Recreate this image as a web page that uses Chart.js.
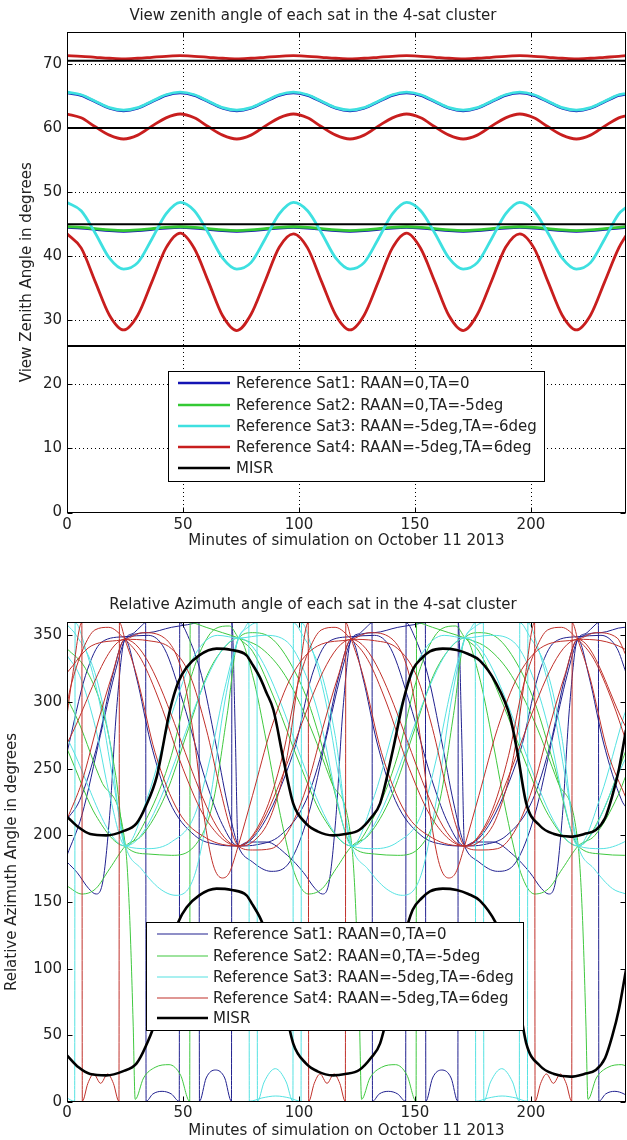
<!DOCTYPE html>
<html><head><meta charset="utf-8">
<script src="https://cdn.jsdelivr.net/npm/chart.js@4.4.1/dist/chart.umd.min.js"></script>
<style>
html,body{margin:0;padding:0;background:#fff;}
#w1{position:absolute;left:0;top:0;width:627px;height:560px;}
#w2{position:absolute;left:0;top:580px;width:627px;height:560px;}
</style></head><body>
<div id="w1"><canvas id="c1" width="627" height="560"></canvas></div>
<div id="w2"><canvas id="c2" width="627" height="560"></canvas></div>
<script>
// ---------- text ----------
const titleTop = 'View zenith angle of each sat in the 4-sat cluster';
const titleBottom = 'Relative Azimuth angle of each sat in the 4-sat cluster';
const xTitle = 'Minutes of simulation on October 11 2013';
const yTitleTop = 'View Zenith Angle in degrees';
const yTitleBottom = 'Relative Azimuth Angle in degrees';
const legendLabels = ['Reference Sat1: RAAN=0,TA=0','Reference Sat2: RAAN=0,TA=-5deg','Reference Sat3: RAAN=-5deg,TA=-6deg','Reference Sat4: RAAN=-5deg,TA=6deg','MISR'];

// ---------- tick labels ----------
const xTickLabels = [0,50,100,150,200];
const yTickLabelsTop = [0,10,20,30,40,50,60,70];
const yTickLabelsBottom = [0,50,100,150,200,250,300,350];

// ---------- top chart data (view zenith angle) ----------
const tTop = [0,6.1,12.2,18.3,24.4,30.5,36.6,42.7,48.8,54.9,61,67.1,73.2,79.3,85.4,91.5,97.6,103.7,109.8,115.9,122,128.1,134.2,140.3,146.4,152.5,158.6,164.7,170.8,176.9,183,189.1,195.2,201.3,207.4,213.5,219.6,225.7,231.8,237.9,241];
const sat1A = [65.5,65.1,64.1,63.1,62.7,63.1,64.1,65.1, 65.5,65.1,64.1,63.1,62.7,63.1,64.1,65.1, 65.5,65.1,64.1,63.1,62.7,63.1,64.1,65.1, 65.5,65.1,64.1,63.1,62.7,63.1,64.1,65.1, 65.5,65.1,64.1,63.1,62.7,63.1,64.1,65.1, 65.3];
const sat1B = [44.5,44.4,44.2,44.0,43.9,44.0,44.2,44.4, 44.5,44.4,44.2,44.0,43.9,44.0,44.2,44.4, 44.5,44.4,44.2,44.0,43.9,44.0,44.2,44.4, 44.5,44.4,44.2,44.0,43.9,44.0,44.2,44.4, 44.5,44.4,44.2,44.0,43.9,44.0,44.2,44.4, 44.5];
const sat2A = [44.6,44.5,44.3,44.1,44.0,44.1,44.3,44.5, 44.6,44.5,44.3,44.1,44.0,44.1,44.3,44.5, 44.6,44.5,44.3,44.1,44.0,44.1,44.3,44.5, 44.6,44.5,44.3,44.1,44.0,44.1,44.3,44.5, 44.6,44.5,44.3,44.1,44.0,44.1,44.3,44.5, 44.6];
const sat3A = [65.6,65.2,64.2,63.2,62.8,63.2,64.2,65.2, 65.6,65.2,64.2,63.2,62.8,63.2,64.2,65.2, 65.6,65.2,64.2,63.2,62.8,63.2,64.2,65.2, 65.6,65.2,64.2,63.2,62.8,63.2,64.2,65.2, 65.6,65.2,64.2,63.2,62.8,63.2,64.2,65.2, 65.4];
const sat3B = [48.4,47.1,43.6,39.7,38.0,39.0,42.7,46.6, 48.4,47.1,43.6,39.7,38.0,39.0,42.7,46.6, 48.4,47.1,43.6,39.7,38.0,39.0,42.7,46.6, 48.4,47.1,43.6,39.7,38.0,39.0,42.7,46.6, 48.4,47.1,43.6,39.7,38.0,39.0,42.7,46.6, 47.6];
const sat4A = [71.3,71.2,71.05,70.9,70.8,70.9,71.05,71.2, 71.3,71.2,71.05,70.9,70.8,70.9,71.05,71.2, 71.3,71.2,71.05,70.9,70.8,70.9,71.05,71.2, 71.3,71.2,71.05,70.9,70.8,70.9,71.05,71.2, 71.3,71.2,71.05,70.9,70.8,70.9,71.05,71.2, 71.3];
const sat4B = [62.2,61.6,60.2,58.9,58.3,58.9,60.3,61.6, 62.2,61.6,60.2,58.9,58.3,58.9,60.3,61.6, 62.2,61.6,60.2,58.9,58.3,58.9,60.3,61.6, 62.2,61.6,60.2,58.9,58.3,58.9,60.3,61.6, 62.2,61.6,60.2,58.9,58.3,58.9,60.3,61.6, 61.9];
const sat4C = [43.5,41.3,36.0,30.8,28.5,30.8,36.0,41.3, 43.6,41.2,36.0,30.7,28.4,30.9,36.1,41.4, 43.5,41.3,36.0,30.8,28.5,30.8,36.0,41.3, 43.6,41.2,36.0,30.7,28.4,30.9,36.1,41.4, 43.5,41.3,36.0,30.8,28.5,30.8,36.0,41.3, 43.2];
const misrTopLevels = [70.5, 60, 45, 26];
const misrTopSpan = [0, 241];

// ---------- bottom chart data (relative azimuth), flat [x,y,x,y,...] ----------
const misrUpper = [0,214, 5,206, 10,201, 17,200, 24,203, 30,209, 34,222, 38.7,244, 44.4,294, 48,315, 51.6,326, 57,335, 64.5,340, 71,339, 77.4,335, 80,328, 83,319, 86,307, 89,294, 93.3,257, 97.5,224, 103,209, 108,203, 114.7,200, 120,201, 126,204, 131,213, 135,224, 140.5,264, 145,301, 149,324, 153,333, 156.5,338, 162,340, 168,339, 173,336, 178,331, 185,314, 191,289, 194,264, 198,224, 204,207, 210,201, 217,199, 223,201, 228,204, 232,213, 235,229, 238,250, 241,279];
const misrLower = [0,35, 5,26, 10,21, 17,20, 24,23, 30,29, 34,42, 38.7,64, 44.4,114, 48,135, 51.6,146, 57,155, 64.5,160, 71,159, 77.4,155, 80,148, 83,139, 86,127, 89,114, 93.3,77, 97.5,44, 103,29, 108,23, 114.7,20, 120,21, 126,24, 131,33, 135,44, 140.5,84, 145,121, 149,144, 153,153, 156.5,158, 162,160, 168,159, 173,156, 178,151, 185,134, 191,109, 194,84, 198,44, 204,27, 210,21, 217,19, 223,21, 228,24, 232,33, 235,49, 238,70, 241,99];

const red1 = [0,269, 25,347, 73.8,192, 122.6,347, 171.4,192, 220.2,347, 241,281];
const red2 = [0,212, 6.4,240, 13.4,285, 19.4,320, 25,347, 35,346, 45,340, 53,320, 60,280, 66,235, 70,208, 73.8,192, 80,189, 88,190, 96,205, 104,240, 111,285, 117,320, 122.6,347, 132.6,346, 142.6,340, 150.6,320, 157.6,280, 163.6,235, 167.6,208, 171.4,192, 177.6,189, 185.6,190, 193.6,205, 201.6,240, 208.6,285, 214.6,320, 220.2,347, 230.2,346, 240.2,340, 241,339];
const red3 = [0,290, 2.4,320, 6.4,359.5, 6.6,0.5, 9,14, 11.5,21, 14.5,14, 17.5,21, 20,14, 22.4,0.5, 22.6,359.5, 25,347, 30,320, 38,262, 48,218, 60,198, 73.8,192, 80,195, 88,215, 95,260, 100,320, 104,359.5, 104.2,0.5, 106.6,14, 109.1,21, 112.1,14, 115.1,21, 117.6,14, 120,0.5, 120.2,359.5, 122.6,347, 127.6,320, 135.6,262, 145.6,218, 157.6,198, 171.4,192, 177.6,195, 185.6,215, 192.6,260, 197.6,320, 201.6,359.5, 201.8,0.5, 204.2,14, 206.7,21, 209.7,14, 212.7,21, 215.2,14, 217.6,0.5, 217.8,359.5, 220.2,347, 225.2,320, 233.2,262, 241,228];
const red4 = [0,298, 1.4,310, 7,340, 12,354, 18,356, 25,347, 32,332, 40,300, 50,250, 60,212, 73.8,192, 84.8,215, 93,260, 99,310, 104.6,340, 109.6,354, 115.6,356, 122.6,347, 129.6,332, 137.6,300, 147.6,250, 157.6,212, 171.4,192, 182.4,215, 190.4,260, 196.4,310, 202.2,340, 207.2,354, 213.2,356, 220.2,347, 227.2,332, 235.2,300, 241,271];
const red5 = [0,322, 10.4,342, 25,347, 33,352, 42,348, 50,320, 55,270, 59,215, 63,178, 67,168, 70,172, 73.8,192, 80,230, 88,280, 97,320, 108,342, 122.6,347, 130.6,352, 139.6,348, 147.6,320, 152.6,270, 156.6,215, 160.6,178, 164.6,168, 167.6,172, 171.4,192, 177.6,230, 185.6,280, 194.6,320, 205.6,342, 220.2,347, 228.2,352, 237.2,348, 241,335];

const blue1 = [0,185, 6.4,215, 14.4,275, 20.4,320, 25,347, 29,352, 32,357, 33.9,359.5, 34.1,0.5, 37,6, 41,8, 45,6, 48.4,0.5, 48.6,359.5, 52,350, 58,320, 64,270, 69,225, 73.8,192, 80,180, 88,173, 96,180, 104,215, 112,275, 118,320, 122.6,347, 126.6,352, 129.6,357, 131.5,359.5, 131.7,0.5, 134.6,6, 138.6,8, 142.6,6, 146,0.5, 146.2,359.5, 149.6,350, 155.6,320, 161.6,270, 166.6,225, 171.4,192, 177.6,180, 185.6,173, 193.6,180, 201.6,215, 209.6,275, 215.6,320, 220.2,347, 224.2,352, 227.2,357, 229.1,359.5, 229.3,0.5, 232.2,6, 236.2,8, 240.2,6, 241,5];
const blue2 = [0,180, 4.4,172, 9.4,160, 12.5,156, 15.4,165, 18.4,215, 21.4,295, 25,347, 35,352, 45,356, 52,358, 56.9,359.5, 57.1,0.5, 60,18, 64,24, 68,18, 70.9,0.5, 71.1,359.5, 72.5,280, 73.8,192, 78,195, 86,195, 95,185, 102,172, 107,160, 110.1,156, 113,165, 116,215, 119,295, 122.6,347, 132.6,352, 142.6,356, 149.6,358, 154.5,359.5, 154.7,0.5, 157.6,18, 161.6,24, 165.6,18, 168.5,0.5, 168.7,359.5, 170.1,280, 171.4,192, 175.6,195, 183.6,195, 192.6,185, 199.6,172, 204.6,160, 207.7,156, 210.6,165, 213.6,215, 216.6,295, 220.2,347, 230.2,352, 240.2,356, 241,356];
const blue3 = [0,262, 8,320, 15,345, 25,349, 35,350, 42,340, 50,300, 60,240, 67,208, 73.8,192, 97.6,262, 105.6,320, 112.6,345, 122.6,349, 132.6,350, 139.6,340, 147.6,300, 157.6,240, 164.6,208, 171.4,192, 195.2,262, 203.2,320, 210.2,345, 220.2,349, 230.2,350, 237.2,340, 241,322];
const blue4 = [0,212, 5.4,226, 13.4,270, 19.4,318, 25,347, 30,318, 36,270, 44,226, 55,200, 65,193, 73.8,192, 82,193, 92,200, 103,226, 111,270, 117,318, 122.6,347, 127.6,318, 133.6,270, 141.6,226, 152.6,200, 162.6,193, 171.4,192, 179.6,193, 189.6,200, 200.6,226, 208.6,270, 214.6,318, 220.2,347, 225.2,318, 231.2,270, 239.2,226, 241,221];

const cyan1 = [0,3, 3.3,0.5, 3.5,359.5, 8,340, 14,300, 20,240, 25.2,192, 32,175, 40,160, 47,155, 55,170, 62,230, 68,300, 74,348, 76.5,355, 78.4,359.5, 78.6,0.5, 84,3, 90,4.5, 96,3, 100.9,0.5, 101.1,359.5, 105.6,340, 111.6,300, 117.6,240, 122.8,192, 129.6,175, 137.6,160, 144.6,155, 152.6,170, 159.6,230, 165.6,300, 171.6,348, 174.1,355, 176,359.5, 176.2,0.5, 181.6,3, 187.6,4.5, 193.6,3, 198.5,0.5, 198.7,359.5, 203.2,340, 209.2,300, 215.2,240, 220.4,192, 227.2,175, 235.2,160, 241,156];
const cyan2 = [0,358, 4,350, 12,322, 18,275, 25.2,192, 35,190, 45,195, 55,215, 62,260, 68,310, 74,348, 78,356, 81.9,359.5, 82.1,0.5, 85,15, 89.8,25, 94.5,15, 97.4,0.5, 97.6,359.5, 101.6,350, 109.6,322, 115.6,275, 122.8,192, 132.6,190, 142.6,195, 152.6,215, 159.6,260, 165.6,310, 171.6,348, 175.6,356, 179.5,359.5, 179.7,0.5, 182.6,15, 187.4,25, 192.1,15, 195,0.5, 195.2,359.5, 199.2,350, 207.2,322, 213.2,275, 220.4,192, 230.2,190, 240.2,195, 241,196];
const cyan3 = [0,273, 25.2,192, 74,348, 122.8,192, 171.6,348, 220.4,192, 241,258];
const cyan4 = [0,335, 5.4,320, 12.4,280, 18.4,230, 25.2,192, 35,230, 45,290, 55,335, 65,350, 74,348, 85,350, 95,345, 103,320, 110,280, 116,230, 122.8,192, 132.6,230, 142.6,290, 152.6,335, 162.6,350, 171.6,348, 182.6,350, 192.6,345, 200.6,320, 207.6,280, 213.6,230, 220.4,192, 230.2,230, 240.2,290, 241,294];

const green1 = [0,303, 5,285, 15,240, 25.2,192, 27,140, 28.5,60, 29.4,2, 33,18, 38,26, 44,28, 49,20, 52.9,0.5, 53.1,359.5, 60,356, 67,352, 74,348, 84,340, 94,320, 104,285, 114,240, 122.8,192, 124.6,140, 126.1,60, 127,2, 130.6,18, 135.6,26, 141.6,28, 146.6,20, 150.5,0.5, 150.7,359.5, 157.6,356, 164.6,352, 171.6,348, 181.6,340, 191.6,320, 201.6,285, 211.6,240, 220.4,192, 222.2,140, 223.7,60, 224.6,2, 228.2,18, 233.2,26, 239.2,28, 241,27];
const green2 = [0,162, 6.4,156, 12.4,160, 18.4,175, 25.2,192, 32.4,200, 42.4,230, 52.4,280, 60.4,320, 67.4,340, 74,348, 80,320, 86,270, 92,215, 98,172, 104,156, 110,160, 116,175, 122.8,192, 130,200, 140,230, 150,280, 158,320, 165,340, 171.6,348, 177.6,320, 183.6,270, 189.6,215, 195.6,172, 201.6,156, 207.6,160, 213.6,175, 220.4,192, 227.6,200, 237.6,230, 241,245];
const green3 = [0,265, 2.4,255, 12.4,215, 25.2,192, 35,215, 45,260, 52,310, 58,340, 64,355, 70,357, 74,348, 80,338, 90,300, 100,255, 110,215, 122.8,192, 132.6,215, 142.6,260, 149.6,310, 155.6,340, 161.6,355, 167.6,357, 171.6,348, 177.6,338, 187.6,300, 197.6,255, 207.6,215, 220.4,192, 230.2,215, 240.2,260, 241,264];
const green4 = [0,340, 8,325, 16,290, 21,245, 25.2,192, 35,186, 45,185, 55,192, 63,225, 69,290, 74,348, 80,352, 88,348, 96,330, 104,300, 112,255, 122.8,192, 132.6,186, 142.6,185, 152.6,192, 160.6,225, 166.6,290, 171.6,348, 177.6,352, 185.6,348, 193.6,330, 201.6,300, 209.6,255, 220.4,192, 230.2,186, 240.2,185, 241,185];

// ---------- styles ----------
const TOPC = {blue:'#1414b4', green:'#34c934', cyan:'#3ee0e0', red:'#c81e1e', black:'#000'};
const BOTC = {blue:'#20208f', green:'#3fc83f', cyan:'#55e2e2', red:'#c0302a', black:'#000'};
const FONT = 'DejaVu Sans';
Chart.defaults.font.family = FONT;
Chart.defaults.font.size = 15;
Chart.defaults.color = '#222';

function xy(xs, ys){ return xs.map((x,i)=>({x:x, y:ys[i]})); }
function pairs(a){ const o=[]; for(let i=0;i<a.length;i+=2) o.push({x:a[i], y:a[i+1]}); return o; }
function lineDs(data, color, w){ return {data:data, borderColor:color, borderWidth:w, pointRadius:0, fill:false, cubicInterpolationMode:'monotone'}; }

function drawLegend(ctx, L){
  ctx.save();
  ctx.setLineDash([]);
  ctx.fillStyle='#fff'; ctx.fillRect(L.x, L.y, L.w, L.h);
  ctx.strokeStyle='#000'; ctx.lineWidth=1; ctx.strokeRect(L.x+0.5, L.y+0.5, L.w, L.h);
  ctx.font = '15px "'+FONT+'"'; ctx.textBaseline='middle'; ctx.textAlign='left';
  legendLabels.forEach((lab,i)=>{
    const yy = L.rows[i];
    ctx.strokeStyle=L.colors[i]; ctx.lineWidth=L.widths[i];
    ctx.beginPath(); ctx.moveTo(L.lx0, yy); ctx.lineTo(L.lx1, yy); ctx.stroke();
    ctx.fillStyle='#222'; ctx.fillText(lab, L.tx, yy+1);
  });
  ctx.restore();
}

const frame = {
  id:'frame',
  beforeDatasetsDraw(chart, args, opts){
    if(!opts.grid) return;
    const {ctx, chartArea:a, scales:{x,y}} = chart;
    ctx.save(); ctx.strokeStyle='#000'; ctx.lineWidth=1; ctx.setLineDash([1,3]);
    xTickLabels.forEach(v=>{ if(v===0) return; const px=Math.round(x.getPixelForValue(v))+0.5; ctx.beginPath(); ctx.moveTo(px,a.top); ctx.lineTo(px,a.bottom); ctx.stroke(); });
    opts.yticks.forEach(v=>{ if(v===0) return; const py=Math.round(y.getPixelForValue(v))+0.5; ctx.beginPath(); ctx.moveTo(a.left,py); ctx.lineTo(a.right,py); ctx.stroke(); });
    ctx.restore();
  },
  afterDraw(chart, args, opts){
    const {ctx, chartArea:a, scales:{x,y}} = chart;
    ctx.save(); ctx.strokeStyle='#000'; ctx.lineWidth=1; ctx.setLineDash([]);
    const L=Math.round(a.left)+0.5, R=Math.round(a.right)-0.5, T=Math.round(a.top)+0.5, B=Math.round(a.bottom)-0.5;
    ctx.strokeRect(L, T, R-L, B-T);
    const tl=5;
    ctx.beginPath();
    xTickLabels.forEach(v=>{ const px=Math.round(x.getPixelForValue(v))+0.5; ctx.moveTo(px,B); ctx.lineTo(px,B-tl); ctx.moveTo(px,T); ctx.lineTo(px,T+tl); });
    opts.yticks.forEach(v=>{ const py=Math.round(y.getPixelForValue(v))+0.5; ctx.moveTo(L,py); ctx.lineTo(L+tl,py); ctx.moveTo(R,py); ctx.lineTo(R-tl,py); });
    ctx.stroke();
    ctx.restore();
    if (opts.legend) drawLegend(ctx, opts.legend);
  }
};

function scalesCfg(o){
  return {
    x:{type:'linear', min:0, max:241, afterFit:s=>{s.height=o.xh;},
       afterBuildTicks:s=>{ s.ticks = xTickLabels.map(v=>({value:v})); },
       grid:{display:false, drawTicks:false}, border:{display:false},
       ticks:{autoSkip:false, maxRotation:0, padding:o.xpad, color:'#222', font:{size:15},
              callback:v=> String(v)},
       title:{display:true, text:xTitle, color:'#222', font:{size:15}, padding:{top:0, bottom:o.xtb}}},
    y:{type:'linear', min:0, max:o.ymax, afterFit:s=>{s.width=67;},
       afterBuildTicks:s=>{ s.ticks = o.yticks.map(v=>({value:v})); },
       grid:{display:false, drawTicks:false}, border:{display:false},
       ticks:{autoSkip:false, padding:5, color:'#222', font:{size:15},
              callback:v=> String(v)},
       title:{display:true, text:o.ytitle, color:'#222', font:{size:15}, padding:{top:o.ytp, bottom:0}}}
  };
}

// ---------- top chart ----------
const topDatasets = [];
misrTopLevels.forEach(v=> topDatasets.push(lineDs(xy(misrTopSpan, misrTopSpan.map(()=>v)), TOPC.black, 2)));
topDatasets.push(lineDs(xy(tTop, sat4A), TOPC.red, 2.8));
topDatasets.push(lineDs(xy(tTop, sat4B), TOPC.red, 2.8));
topDatasets.push(lineDs(xy(tTop, sat4C), TOPC.red, 2.8));
topDatasets.push(lineDs(xy(tTop, sat3A), TOPC.cyan, 2.8));
topDatasets.push(lineDs(xy(tTop, sat3B), TOPC.cyan, 2.8));
topDatasets.push(lineDs(xy(tTop, sat2A), TOPC.green, 2.8));
topDatasets.push(lineDs(xy(tTop, sat1A), TOPC.blue, 2.8));
topDatasets.push(lineDs(xy(tTop, sat1B), TOPC.blue, 2.8));

new Chart(document.getElementById('c1'), {
  type:'line',
  data:{datasets: topDatasets},
  options:{
    responsive:false, animation:false, events:[],
    layout:{padding:{left:0, right:1, top:0, bottom:0}},
    scales: scalesCfg({xh:47.5, xpad:4, xtb:10, ymax:75, yticks:yTickLabelsTop, ytitle:yTitleTop, ytp:18}),
    plugins:{
      legend:{display:false}, tooltip:{enabled:false},
      title:{display:true, text:titleTop, color:'#222', font:{size:15, weight:'normal'}, padding:{top:7, bottom:7}},
      frame:{grid:true, yticks:yTickLabelsTop,
        legend:{x:168, y:371, w:376, h:110, rows:[383,405,426,447,468], lx0:178, lx1:230, tx:236,
                colors:[TOPC.blue,TOPC.green,TOPC.cyan,TOPC.red,TOPC.black], widths:[2.5,2.5,2.5,2.5,2.5]}}
    }
  },
  plugins:[frame]
});

// ---------- bottom chart ----------
const botDatasets = [
  lineDs(pairs(misrUpper), BOTC.black, 2.6),
  lineDs(pairs(misrLower), BOTC.black, 2.6),
  lineDs(pairs(red1), BOTC.red, 1), lineDs(pairs(red2), BOTC.red, 1), lineDs(pairs(red3), BOTC.red, 1),
  lineDs(pairs(red4), BOTC.red, 1), lineDs(pairs(red5), BOTC.red, 1),
  lineDs(pairs(cyan1), BOTC.cyan, 1), lineDs(pairs(cyan2), BOTC.cyan, 1), lineDs(pairs(cyan3), BOTC.cyan, 1), lineDs(pairs(cyan4), BOTC.cyan, 1),
  lineDs(pairs(green1), BOTC.green, 1), lineDs(pairs(green2), BOTC.green, 1), lineDs(pairs(green3), BOTC.green, 1), lineDs(pairs(green4), BOTC.green, 1),
  lineDs(pairs(blue1), BOTC.blue, 1), lineDs(pairs(blue2), BOTC.blue, 1), lineDs(pairs(blue3), BOTC.blue, 1), lineDs(pairs(blue4), BOTC.blue, 1)
];

new Chart(document.getElementById('c2'), {
  type:'line',
  data:{datasets: botDatasets},
  options:{
    responsive:false, animation:false, events:[],
    layout:{padding:{left:0, right:1, top:0, bottom:0}},
    scales: scalesCfg({xh:38, xpad:2, xtb:0, ymax:360, yticks:yTickLabelsBottom, ytitle:yTitleBottom, ytp:3}),
    plugins:{
      legend:{display:false}, tooltip:{enabled:false},
      title:{display:true, text:titleBottom, color:'#222', font:{size:15, weight:'normal'}, padding:{top:16, bottom:8}},
      frame:{grid:false, yticks:yTickLabelsBottom,
        legend:{x:146, y:342, w:377, h:108, rows:[354,376,397,418,438], lx0:157, lx1:208, tx:213,
                colors:[BOTC.blue,BOTC.green,BOTC.cyan,BOTC.red,BOTC.black], widths:[1.2,1.2,1.2,1.2,2.6]}}
    }
  },
  plugins:[frame]
});
</script></body></html>
